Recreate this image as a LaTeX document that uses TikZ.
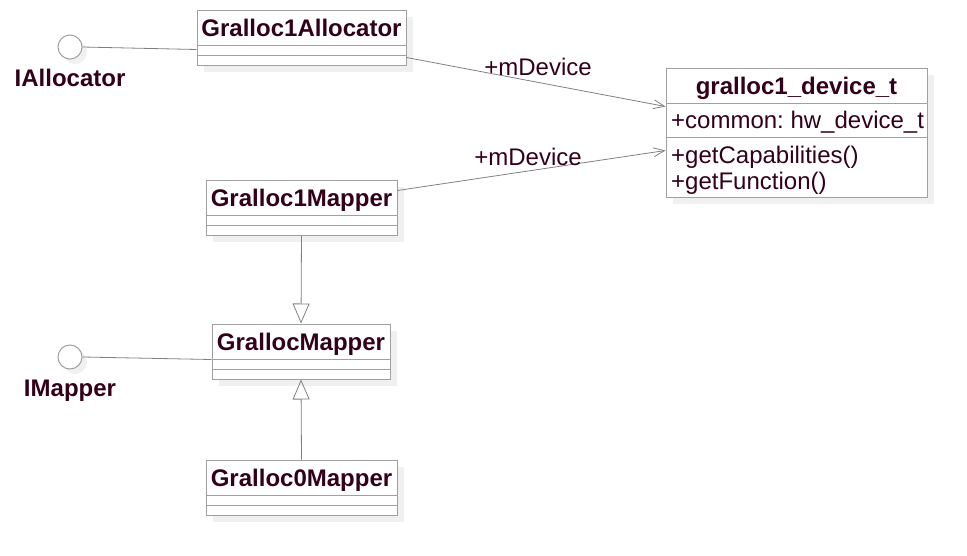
\documentclass[tikz,border=0pt]{standalone}
\usepackage{fontspec}
\setmainfont{Liberation Sans}
\usetikzlibrary{arrows.meta,shadows}

\definecolor{umltext}{RGB}{51,0,26}
\definecolor{umlborder}{RGB}{160,160,160}
\definecolor{umlline}{RGB}{128,128,128}
\definecolor{umlshadow}{RGB}{240,240,240}

\tikzset{
  classbox/.style={draw=umlborder, line width=1pt, fill=white, inner sep=0pt,
    drop shadow={fill=umlshadow, opacity=1, shadow xshift=7pt, shadow yshift=-7pt}},
  classname/.style={anchor=base, inner sep=0pt, text=umltext,
    font=\fontsize{24}{28}\selectfont\bfseries},
  member/.style={anchor=base west, inner sep=0pt, text=umltext,
    font=\fontsize{24}{28}\selectfont\frenchspacing},
  iface/.style={circle, draw=umlborder, line width=1pt, fill=white,
    minimum size=24pt, inner sep=0pt,
    drop shadow={fill=umlshadow, opacity=1, shadow xshift=5pt, shadow yshift=-5pt}},
  ifacename/.style={anchor=base, inner sep=0pt, text=umltext,
    font=\fontsize{24}{28}\selectfont\bfseries},
  rolename/.style={anchor=base, inner sep=0pt, text=umltext,
    font=\fontsize{24}{28}\selectfont},
  classline/.style={draw=umlborder, line width=1pt},
  link/.style={draw=umlline, line width=0.8pt},
  assoc/.style={link, -{Straight Barb[length=11pt,width=9pt]}},
  inherit/.style={link, -{Triangle[open,length=20pt,width=17pt]}}
}

\begin{document}
\begin{tikzpicture}[x=1pt,y=-1pt]
\useasboundingbox (0,0) rectangle (967,555);

% --- Classes ---
\node[classbox, minimum width=209pt, minimum height=55pt] (alloc) at (301.5,37.5) {};
\node[classbox, minimum width=191pt, minimum height=55pt] (g1map) at (301.5,207.5) {};
\node[classbox, minimum width=178pt, minimum height=55pt] (gmap) at (301,351.5) {};
\node[classbox, minimum width=191pt, minimum height=55pt] (g0map) at (301.5,487.5) {};
\node[classbox, minimum width=261pt, minimum height=129pt] (device) at (796.5,132.5) {};

% compartments
\foreach \n in {alloc,g1map,gmap,g0map} {
  \draw[classline] ([yshift=-36pt]\n.north west) -- ([yshift=-36pt]\n.north east);
  \draw[classline] ([yshift=-46pt]\n.north west) -- ([yshift=-46pt]\n.north east);
}
\draw[classline] ([yshift=-36pt]device.north west) -- ([yshift=-36pt]device.north east);
\draw[classline] ([yshift=-70pt]device.north west) -- ([yshift=-70pt]device.north east);

% names
\node[classname] (alloc-name) at (301.5,36) {Gralloc1Allocator};
\node[classname] (g1map-name) at (301.5,206) {Gralloc1Mapper};
\node[classname] (gmap-name) at (301,350) {GrallocMapper};
\node[classname] (g0map-name) at (301.5,486) {Gralloc0Mapper};
\node[classname] (device-name) at (796.5,94) {gralloc1\_device\_t};

% members of gralloc1_device_t
\node[member] (device-common) at (671,128) {+common: hw\_device\_t};
\node[member] (device-caps) at (671,163) {+getCapabilities()};
\node[member] (device-func) at (671,189) {+getFunction()};

% --- Interfaces ---
\node[iface] (ialloc) at (70,47) {};
\node[ifacename] (ialloc-name) at (70,86) {IAllocator};
\node[iface] (imap) at (70,357) {};
\node[ifacename] (imap-name) at (70,396) {IMapper};

\draw[link] (ialloc.east) -- ([yshift=-40pt]alloc.north west);
\draw[link] (imap.east) -- ([yshift=-36pt]gmap.north west);

% --- Associations ---
\draw[assoc] ([yshift=8pt]alloc.south east) -- ([yshift=-39pt]device.north west);
\node[rolename] (role1) at (538,75) {+mDevice};
\draw[assoc] ([yshift=-11pt]g1map.north east) -- ([yshift=-83pt]device.north west);
\node[rolename] (role2) at (528,165) {+mDevice};

% --- Generalizations ---
\draw[inherit] (g1map.south) -- (gmap.north);
\draw[inherit] (g0map.north) -- (gmap.south);

\end{tikzpicture}
\end{document}
